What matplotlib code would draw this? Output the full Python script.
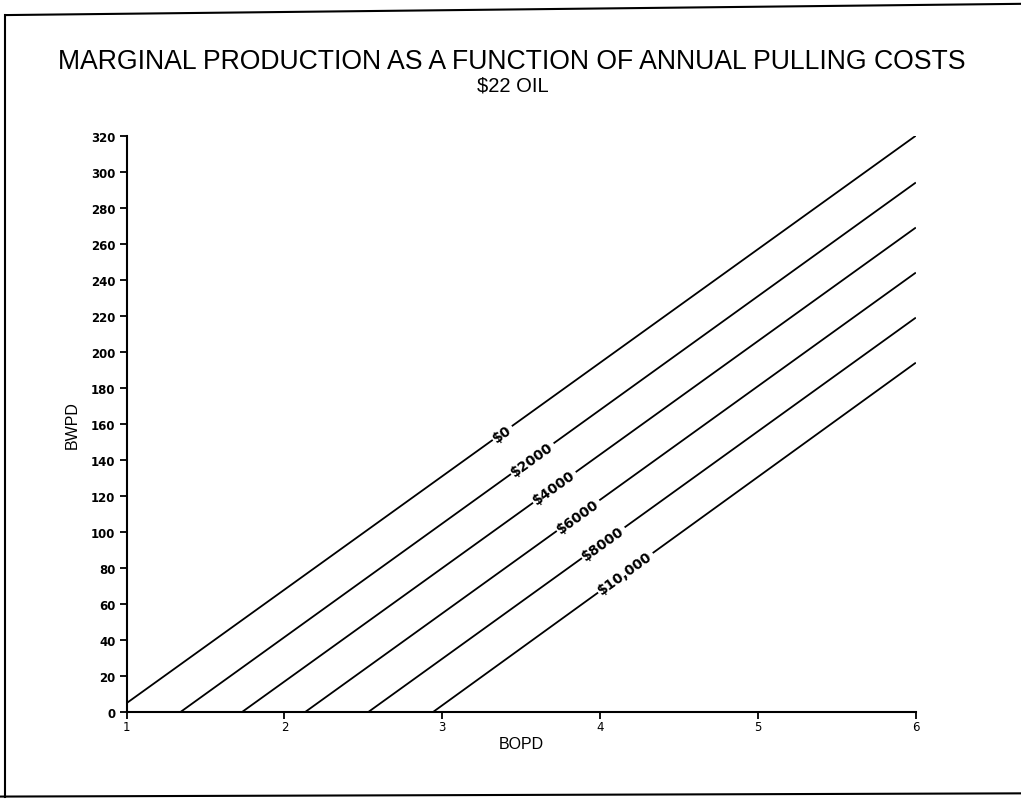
import numpy as np
import matplotlib.pyplot as plt
from matplotlib.lines import Line2D

# pulling cost curves: start point, end point (BOPD, BWPD)
labels = ["$0", "$2000", "$4000", "$6000", "$8000", "$10,000"]
x_start = [1.0, 1.34, 1.73, 2.13, 2.53, 2.94]
y_start = [5, 0, 0, 0, 0, 0]
x_end = [6, 6, 6, 6, 6, 6]
y_end = [320, 294, 269, 244, 219, 194]
label_x = [3.38, 3.57, 3.71, 3.86, 4.02, 4.16]

x_ticks = [1, 2, 3, 4, 5, 6]
y_ticks = list(range(0, 321, 20))

fig = plt.figure(figsize=(10.21, 8.04), dpi=100)
ax = fig.add_axes([0.124, 0.113, 0.773, 0.717])

for xs, ys, xe, ye in zip(x_start, y_start, x_end, y_end):
    ax.plot([xs, xe], [ys, ye], color="black", lw=1.3, solid_capstyle="butt")

ax.set_xlim(1, 6)
ax.set_ylim(0, 320)
ax.set_xticks(x_ticks)
ax.set_yticks(y_ticks)
ax.tick_params(direction="out", length=5, width=1.3, labelsize=8.5, pad=3)
ax.tick_params(axis="x", pad=1)
for lab in ax.get_xticklabels() + ax.get_yticklabels():
    lab.set_fontweight("bold")
for s in ["top", "right"]:
    ax.spines[s].set_visible(False)
for s in ["left", "bottom"]:
    ax.spines[s].set_linewidth(1.5)
ax.spines["bottom"].set_position(("data", 0))

# inline labels
fig.canvas.draw()
for lab, xs, ys, xe, ye, lx in zip(labels, x_start, y_start, x_end, y_end, label_x):
    p1 = ax.transData.transform((xs, ys))
    p2 = ax.transData.transform((xe, ye))
    ang = np.degrees(np.arctan2(p2[1] - p1[1], p2[0] - p1[0]))
    ly = ys + (ye - ys) * (lx - xs) / (xe - xs)
    ax.text(lx, ly, lab, rotation=ang, rotation_mode="anchor",
            ha="center", va="center", fontsize=10, fontweight="bold",
            bbox=dict(facecolor="white", edgecolor="none", pad=1.5))

ax.set_xlabel("BOPD", fontsize=11.5, labelpad=2, family="Liberation Sans")
ax.set_ylabel("BWPD", fontsize=11.5, labelpad=8, family="Liberation Sans")

fig.text(0.5015, 0.923, "MARGINAL PRODUCTION AS A FUNCTION OF ANNUAL PULLING COSTS",
         ha="center", va="center", fontsize=19.2, family="Liberation Sans")
fig.text(0.5025, 0.893, "$22 OIL", ha="center", va="center", fontsize=14.5,
         family="Liberation Sans")

# scanned page frame
fig.add_artist(Line2D([0.005, 0.005], [0.008, 0.980], color="black", lw=1.5))
fig.add_artist(Line2D([0.005, 1.0], [0.980, 0.994], color="black", lw=1.5))
fig.add_artist(Line2D([0.0, 1.0], [0.008, 0.012], color="black", lw=1.5))

fig.savefig("out.png", dpi=100)
